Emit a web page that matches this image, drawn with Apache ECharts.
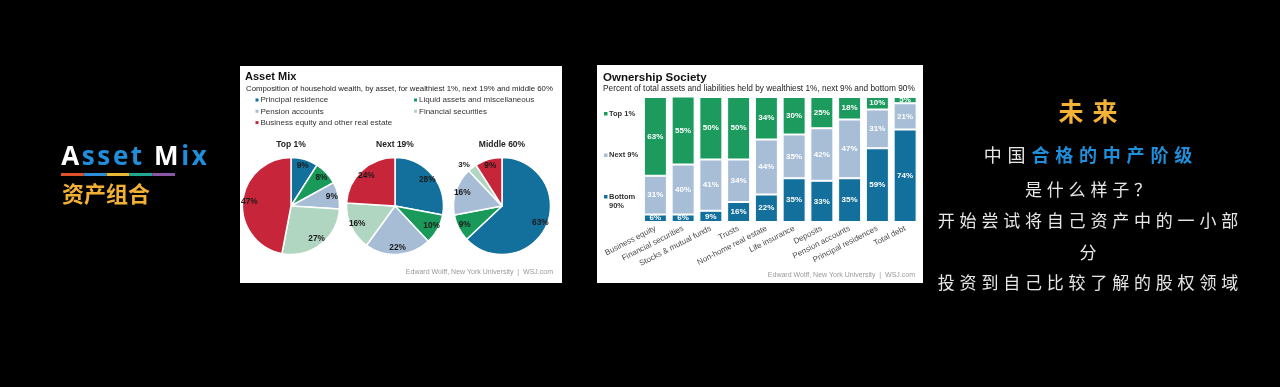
<!DOCTYPE html>
<html><head><meta charset="utf-8">
<script src="https://cdn.jsdelivr.net/npm/echarts@6/dist/echarts.min.js"></script>
<style>html,body{margin:0;padding:0;background:#000;}#c{width:1280px;height:387px;}</style>
</head><body><div id="c"></div>
<script>
// ---------- data ----------
const assetTypes = ['Principal residence', 'Liquid assets and miscellaneous', 'Pension accounts', 'Financial securities', 'Business equity and other real estate'];
const pieTitles = ['Top 1%', 'Next 19%', 'Middle 60%'];
const pieTop1 = [9, 8, 9, 27, 47];
const pieNext19 = [28, 10, 22, 16, 24];
const pieMiddle60 = [63, 9, 16, 3, 9];

const barCategories = ['Business equity', 'Financial securities', 'Stocks & mutual funds', 'Trusts', 'Non-home real estate', 'Life insurance', 'Deposits', 'Pension accounts', 'Principal residences', 'Total debt'];
const barGroups = ['Top 1%', 'Next 9%', 'Bottom 90%'];
const barTop1 = [63, 55, 50, 50, 34, 30, 25, 18, 10, 5];
const barNext9 = [31, 40, 41, 34, 44, 35, 42, 47, 31, 21];
const barBottom90 = [6, 6, 9, 16, 22, 35, 33, 35, 59, 74];

const leftTitle = 'Asset Mix';
const leftSubtitle = '资产组合';
const pieChartTitle = 'Asset Mix';
const pieChartSubtitle = 'Composition of household wealth, by asset, for wealthiest 1%, next 19% and middle 60%';
const barChartTitle = 'Ownership Society';
const barChartSubtitle = 'Percent of total assets and liabilities held by wealthiest 1%, next 9% and bottom 90%';
const sourceText = 'Edward Wolff, New York University  |  WSJ.com';
const rightHead = '未来';
const rightLine1a = '中国';
const rightLine1b = '合格的中产阶级';
const rightLines = ['是什么样子？', '开始尝试将自己资产中的一小部', '分', '投资到自己比较了解的股权领域'];

// ---------- styles ----------
const FONT = 'Liberation Sans, Arial, Helvetica, sans-serif';
const CJK = 'Noto Sans CJK SC, sans-serif';
const assetColors = ['#13709d', '#199a5a', '#a7bdd6', '#b0d5c0', '#c72539'];
const barColors = {top: '#1d9a5d', next: '#a8bdd6', bottom: '#13709d'};
const pieCenters = [[291, 206], [395, 206], [502, 206]];
const pieR = 48.5;

function spaced(s, key) { return Array.from(s).map(c => '{' + key + '|' + c + '}').join(''); }

function pieSeries(idx, values) {
  const c = pieCenters[idx];
  const main = {
    type: 'pie', center: c, radius: pieR, startAngle: 90, clockwise: true,
    silent: true, animation: false, avoidLabelOverlap: false,
    itemStyle: {borderColor: '#fff', borderWidth: 1.5},
    label: {show: false}, labelLine: {show: false},
    data: values.map((v, i) => {
      const d = {name: assetTypes[i], value: v, itemStyle: {color: assetColors[i]}};
      if (v < 5) {
        d.label = {show: true, position: 'outside', formatter: '{c}%', color: '#222', fontSize: 8, fontWeight: 'bold', fontFamily: FONT, distanceToLabelLine: 0};
        d.labelLine = {show: false, length: 4, length2: 0};
      }
      return d;
    })
  };
  const helper = {
    type: 'pie', center: c, radius: pieR * 1.6, startAngle: 90, clockwise: true,
    silent: true, animation: false, avoidLabelOverlap: false,
    itemStyle: {color: 'rgba(0,0,0,0)', borderWidth: 0},
    label: {show: true, position: 'inside', formatter: '{c}%', color: '#1a1a1a', fontSize: 8.3, fontWeight: 'bold', fontFamily: FONT},
    labelLine: {show: false},
    data: values.map((v, i) => ({name: assetTypes[i], value: v, label: {show: v >= 5}}))
  };
  return [main, helper];
}

const graphics = [];
// panels
graphics.push({type: 'rect', shape: {x: 240, y: 66, width: 322, height: 217}, style: {fill: '#fff'}, z: 0});
graphics.push({type: 'rect', shape: {x: 597, y: 65, width: 326, height: 218}, style: {fill: '#fff'}, z: 0});

function txt(x, y, text, o) {
  o = o || {};
  graphics.push({type: 'text', x: x, y: y, z: 5, style: Object.assign({
    text: text, fontFamily: FONT, fontSize: 8, fill: '#333',
    align: 'left', textAlign: 'left', verticalAlign: 'middle', textVerticalAlign: 'middle'
  }, o)});
}

// Left big title
const blue = '#1f8fdc';
const ltRich = {
  w: {fill: '#fff', color: '#fff', fontSize: 26, fontWeight: 'bold', fontFamily: 'Open Sans, sans-serif', padding: [0, 1.3]},
  b: {fill: blue, color: blue, fontSize: 26, fontWeight: 'bold', fontFamily: 'Open Sans, sans-serif', padding: [0, 1.3]}
};
const ltText = Array.from(leftTitle).map(ch => spaced(ch, (ch === 'A' || ch === 'M') ? 'w' : 'b')).join('');
txt(60, 158, ltText, {rich: ltRich, fontSize: 26, fontWeight: 'bold', fontFamily: 'Open Sans, sans-serif'});
const barSeg = ['#e0502a', '#2b8ed6', '#e8b637', '#1fa88f', '#8d55a5'];
barSeg.forEach((col, i) => graphics.push({type: 'rect', shape: {x: 61 + i * 22.8, y: 173, width: 22.8, height: 3}, style: {fill: col}, z: 5}));
txt(62, 194, leftSubtitle, {fontFamily: CJK, fontSize: 22, fontWeight: 'bold', fill: '#f2b134'});

// Pie panel texts
txt(245, 77, pieChartTitle, {fontSize: 11, fontWeight: 'bold', fill: '#111'});
txt(246, 89, pieChartSubtitle, {fontSize: 7.8, fill: '#222'});
assetTypes.forEach((name, i) => {
  const col = i % 2, row = Math.floor(i / 2);
  const x = col === 0 ? 255.5 : 414;
  const y = 100 + row * 11.3;
  graphics.push({type: 'rect', shape: {x: x, y: y - 1.5, width: 3, height: 3}, style: {fill: assetColors[i]}, z: 5});
  txt(x + 5, y, name, {fontSize: 8, fill: '#333'});
});
pieTitles.forEach((t, i) => txt(pieCenters[i][0], 145, t, {fontSize: 8.5, fontWeight: 'bold', fill: '#222', align: 'center', textAlign: 'center'}));
txt(553, 272, sourceText, {fontSize: 7, fill: '#999', align: 'right', textAlign: 'right'});

// Bar panel texts
txt(603, 78, barChartTitle, {fontSize: 11.5, fontWeight: 'bold', fill: '#111'});
txt(603, 89, barChartSubtitle, {fontSize: 8.3, fill: '#222'});
const legY = [114, 155.5, 197];
const legCol = [barColors.top, barColors.next, barColors.bottom];
barGroups.forEach((g, i) => {
  graphics.push({type: 'rect', shape: {x: 604, y: legY[i] - 2, width: 3.5, height: 3.5}, style: {fill: legCol[i]}, z: 5});
  const parts = g.split(' ');
  const label = i === 2 ? parts[0] + '\n' + parts[1] : g;
  graphics.push({type: 'text', x: 609, y: legY[i] - 4.5, z: 5, style: {
    text: label, fontFamily: FONT, fontSize: 7.5, fontWeight: 'bold', fill: '#333', lineHeight: 8.8,
    align: 'left', textAlign: 'left', verticalAlign: 'top', textVerticalAlign: 'top'}});
});
txt(915, 275, sourceText, {fontSize: 7, fill: '#999', align: 'right', textAlign: 'right'});

// Right Chinese text
const cjkRich = {
  head: {fill: '#f5b335', color: '#f5b335', fontSize: 25, fontWeight: 'bold', fontFamily: CJK, padding: [0, 4.5]},
  w1: {fill: '#e6e6e6', color: '#e6e6e6', fontSize: 18, fontFamily: CJK, padding: [0, 2.9]},
  b1: {fill: '#1f8fdc', color: '#1f8fdc', fontSize: 18, fontWeight: 'bold', fontFamily: CJK, padding: [0, 2.9]},
  w2: {fill: '#e6e6e6', color: '#e6e6e6', fontSize: 17, fontFamily: CJK, padding: [0, 2.4]}
};
function cjk(y, text) {
  graphics.push({type: 'text', x: 1088, y: y, z: 5, style: {text: text, rich: cjkRich, fontFamily: CJK, fontSize: 17, fill: '#e6e6e6',
    align: 'center', textAlign: 'center', verticalAlign: 'middle', textVerticalAlign: 'middle'}});
}
cjk(111, spaced(rightHead, 'head'));
cjk(155, spaced(rightLine1a, 'w1') + spaced(rightLine1b, 'b1'));
const rightYs = [190, 221, 253, 283];
rightLines.forEach((l, i) => cjk(rightYs[i], spaced(l, 'w2')));

// ---------- chart ----------
const barLabel = {show: true, position: 'inside', formatter: '{c}%', color: '#fff', fontSize: 8, fontWeight: 'bold', fontFamily: FONT};
const option = {
  backgroundColor: '#000',
  animation: false,
  graphic: {elements: graphics},
  grid: {left: 641.5, top: 97, width: 277.5, height: 125, containLabel: false},
  xAxis: {type: 'category', data: barCategories,
    axisLine: {show: false}, axisTick: {show: false}, splitLine: {show: false},
    axisLabel: {interval: 0, rotate: 27, fontSize: 8, color: '#4a4a4a', margin: 6, fontFamily: FONT}},
  yAxis: {type: 'value', min: 0, max: 100, show: false},
  series: [
    {type: 'bar', name: barGroups[2], stack: 's', data: barBottom90, barWidth: 23, silent: true,
      itemStyle: {color: barColors.bottom, borderColor: '#fff', borderWidth: 1}, label: barLabel},
    {type: 'bar', name: barGroups[1], stack: 's', data: barNext9, barWidth: 23, silent: true,
      itemStyle: {color: barColors.next, borderColor: '#fff', borderWidth: 1}, label: barLabel},
    {type: 'bar', name: barGroups[0], stack: 's', data: barTop1, barWidth: 23, silent: true,
      itemStyle: {color: barColors.top, borderColor: '#fff', borderWidth: 1}, label: barLabel}
  ].concat(pieSeries(0, pieTop1), pieSeries(1, pieNext19), pieSeries(2, pieMiddle60))
};
const chart = echarts.init(document.getElementById('c'), null, {renderer: 'canvas'});
chart.setOption(option);
</script></body></html>
